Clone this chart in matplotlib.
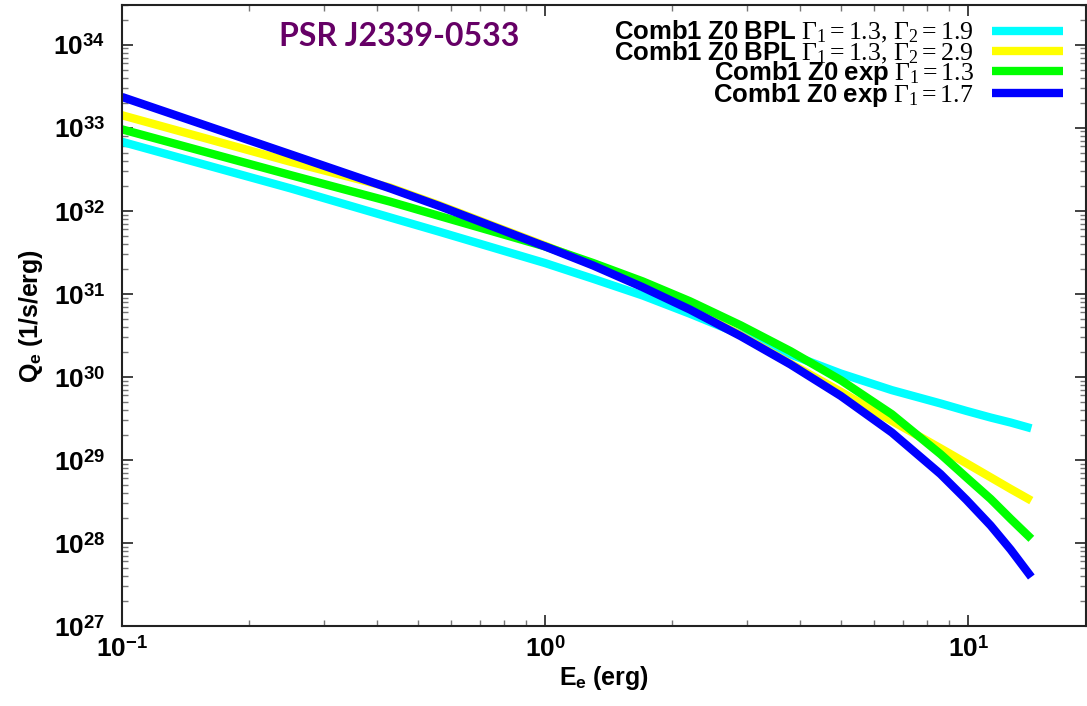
import matplotlib
matplotlib.use("Agg")
import matplotlib.pyplot as plt
from matplotlib.ticker import LogLocator, FuncFormatter, NullFormatter
import numpy as np

plt.rcParams['mathtext.fontset'] = 'custom'
plt.rcParams['mathtext.rm'] = 'Liberation Serif'
plt.rcParams['mathtext.it'] = 'Liberation Serif:italic'
plt.rcParams['mathtext.bf'] = 'Liberation Sans:bold'
plt.rcParams['font.family'] = ['Liberation Sans', 'DejaVu Sans']

# electron energy (erg) and log10 of the injection spectra Q_e (1/s/erg)
energy = [0.1, 0.25, 0.43, 0.56, 1.0, 1.3, 1.7, 2.2, 2.9, 3.8, 5.0, 6.6, 8.6,
          9.9, 11.3, 12.6, 14.1]
logq_bpl_19 = [32.83, 32.27, 31.92, 31.75, 31.37, 31.18, 30.98, 30.76, 30.51,
               30.27, 30.04, 29.84, 29.68, 29.59, 29.51, 29.45, 29.38]
logq_bpl_29 = [33.15, 32.59, 32.28, 32.07, 31.58, 31.35, 31.09, 30.82, 30.50,
               30.16, 29.82, 29.47, 29.14, 28.96, 28.79, 28.65, 28.51]
logq_exp_13 = [32.98, 32.43, 32.11, 31.94, 31.57, 31.37, 31.15, 30.91, 30.62,
               30.31, 29.96, 29.55, 29.07, 28.79, 28.53, 28.29, 28.05]
logq_exp_17 = [33.37, 32.68, 32.27, 32.06, 31.57, 31.34, 31.08, 30.81, 30.49,
               30.15, 29.77, 29.33, 28.83, 28.52, 28.21, 27.92, 27.59]

labels = [
    r'$\mathbf{Comb1\ Z0\ BPL}\ \Gamma_1 = 1.3,\, \Gamma_2 = 1.9$',
    r'$\mathbf{Comb1\ Z0\ BPL}\ \Gamma_1 = 1.3,\, \Gamma_2 = 2.9$',
    r'$\mathbf{Comb1\ Z0\ exp}\ \Gamma_1 = 1.3$',
    r'$\mathbf{Comb1\ Z0\ exp}\ \Gamma_1 = 1.7$',
]
series = [logq_bpl_19, logq_bpl_29, logq_exp_13, logq_exp_17]
colors = ['#00ffff', '#ffff00', '#00ff00', '#0000ff']

fig = plt.figure(figsize=(10.87, 7.06), dpi=100)
ax = fig.add_axes([0.1122, 0.1133, 0.8870, 0.8796])

for lq, c, lab in zip(series, colors, labels):
    ax.plot(energy, 10.0 ** np.array(lq), color=c, lw=6, label=lab,
            solid_capstyle='butt', solid_joinstyle='round')

ax.set_xscale('log')
ax.set_yscale('log')
ax.set_xlim(0.1, 19.0)
ax.set_ylim(1e27, 3.0e34)


def pow_fmt(v, pos):
    e = int(round(np.log10(v)))
    return r'$\mathbf{10}^{\mathbf{%d}}$' % e


ax.xaxis.set_major_locator(LogLocator(base=10, numticks=20))
ax.yaxis.set_major_locator(LogLocator(base=10, numticks=20))
ax.xaxis.set_minor_locator(LogLocator(base=10, subs=np.arange(2, 10), numticks=20))
ax.yaxis.set_minor_locator(LogLocator(base=10, subs=np.arange(2, 10), numticks=20))
ax.xaxis.set_major_formatter(FuncFormatter(pow_fmt))
ax.yaxis.set_major_formatter(FuncFormatter(pow_fmt))
ax.xaxis.set_minor_formatter(NullFormatter())
ax.yaxis.set_minor_formatter(NullFormatter())

ax.tick_params(which='both', direction='in', top=True, right=True,
               labelsize=19, color='#222222')
ax.tick_params(which='major', length=8, width=1.2)
ax.tick_params(which='minor', length=4.5, width=1.0, color='#777777')
ax.tick_params(axis='x', pad=7)
ax.tick_params(axis='y', pad=12)
for sp in ax.spines.values():
    sp.set_linewidth(1.5)
    sp.set_color('#222222')

ax.set_xlabel(r'$\mathbf{E}_{\mathbf{e}}\ \mathbf{(erg)}$', fontsize=18, labelpad=2)
ax.set_ylabel(r'$\mathbf{Q}_{\mathbf{e}}\ \mathbf{(1/s/erg)}$', fontsize=18, labelpad=6)

ax.text(0.163, 0.950, 'PSR J2339-0533', transform=ax.transAxes,
        fontsize=23, fontweight='bold', family=['Lato', 'DejaVu Sans'],
        color='#660066', ha='left', va='center')

ax.legend(loc='upper right', bbox_to_anchor=(0.976, 0.977), frameon=False,
          markerfirst=False, fontsize=18.5, handlelength=2.75, handletextpad=0.72,
          labelspacing=-0.24, borderpad=0, borderaxespad=0)

fig.savefig('out.png', dpi=100)
